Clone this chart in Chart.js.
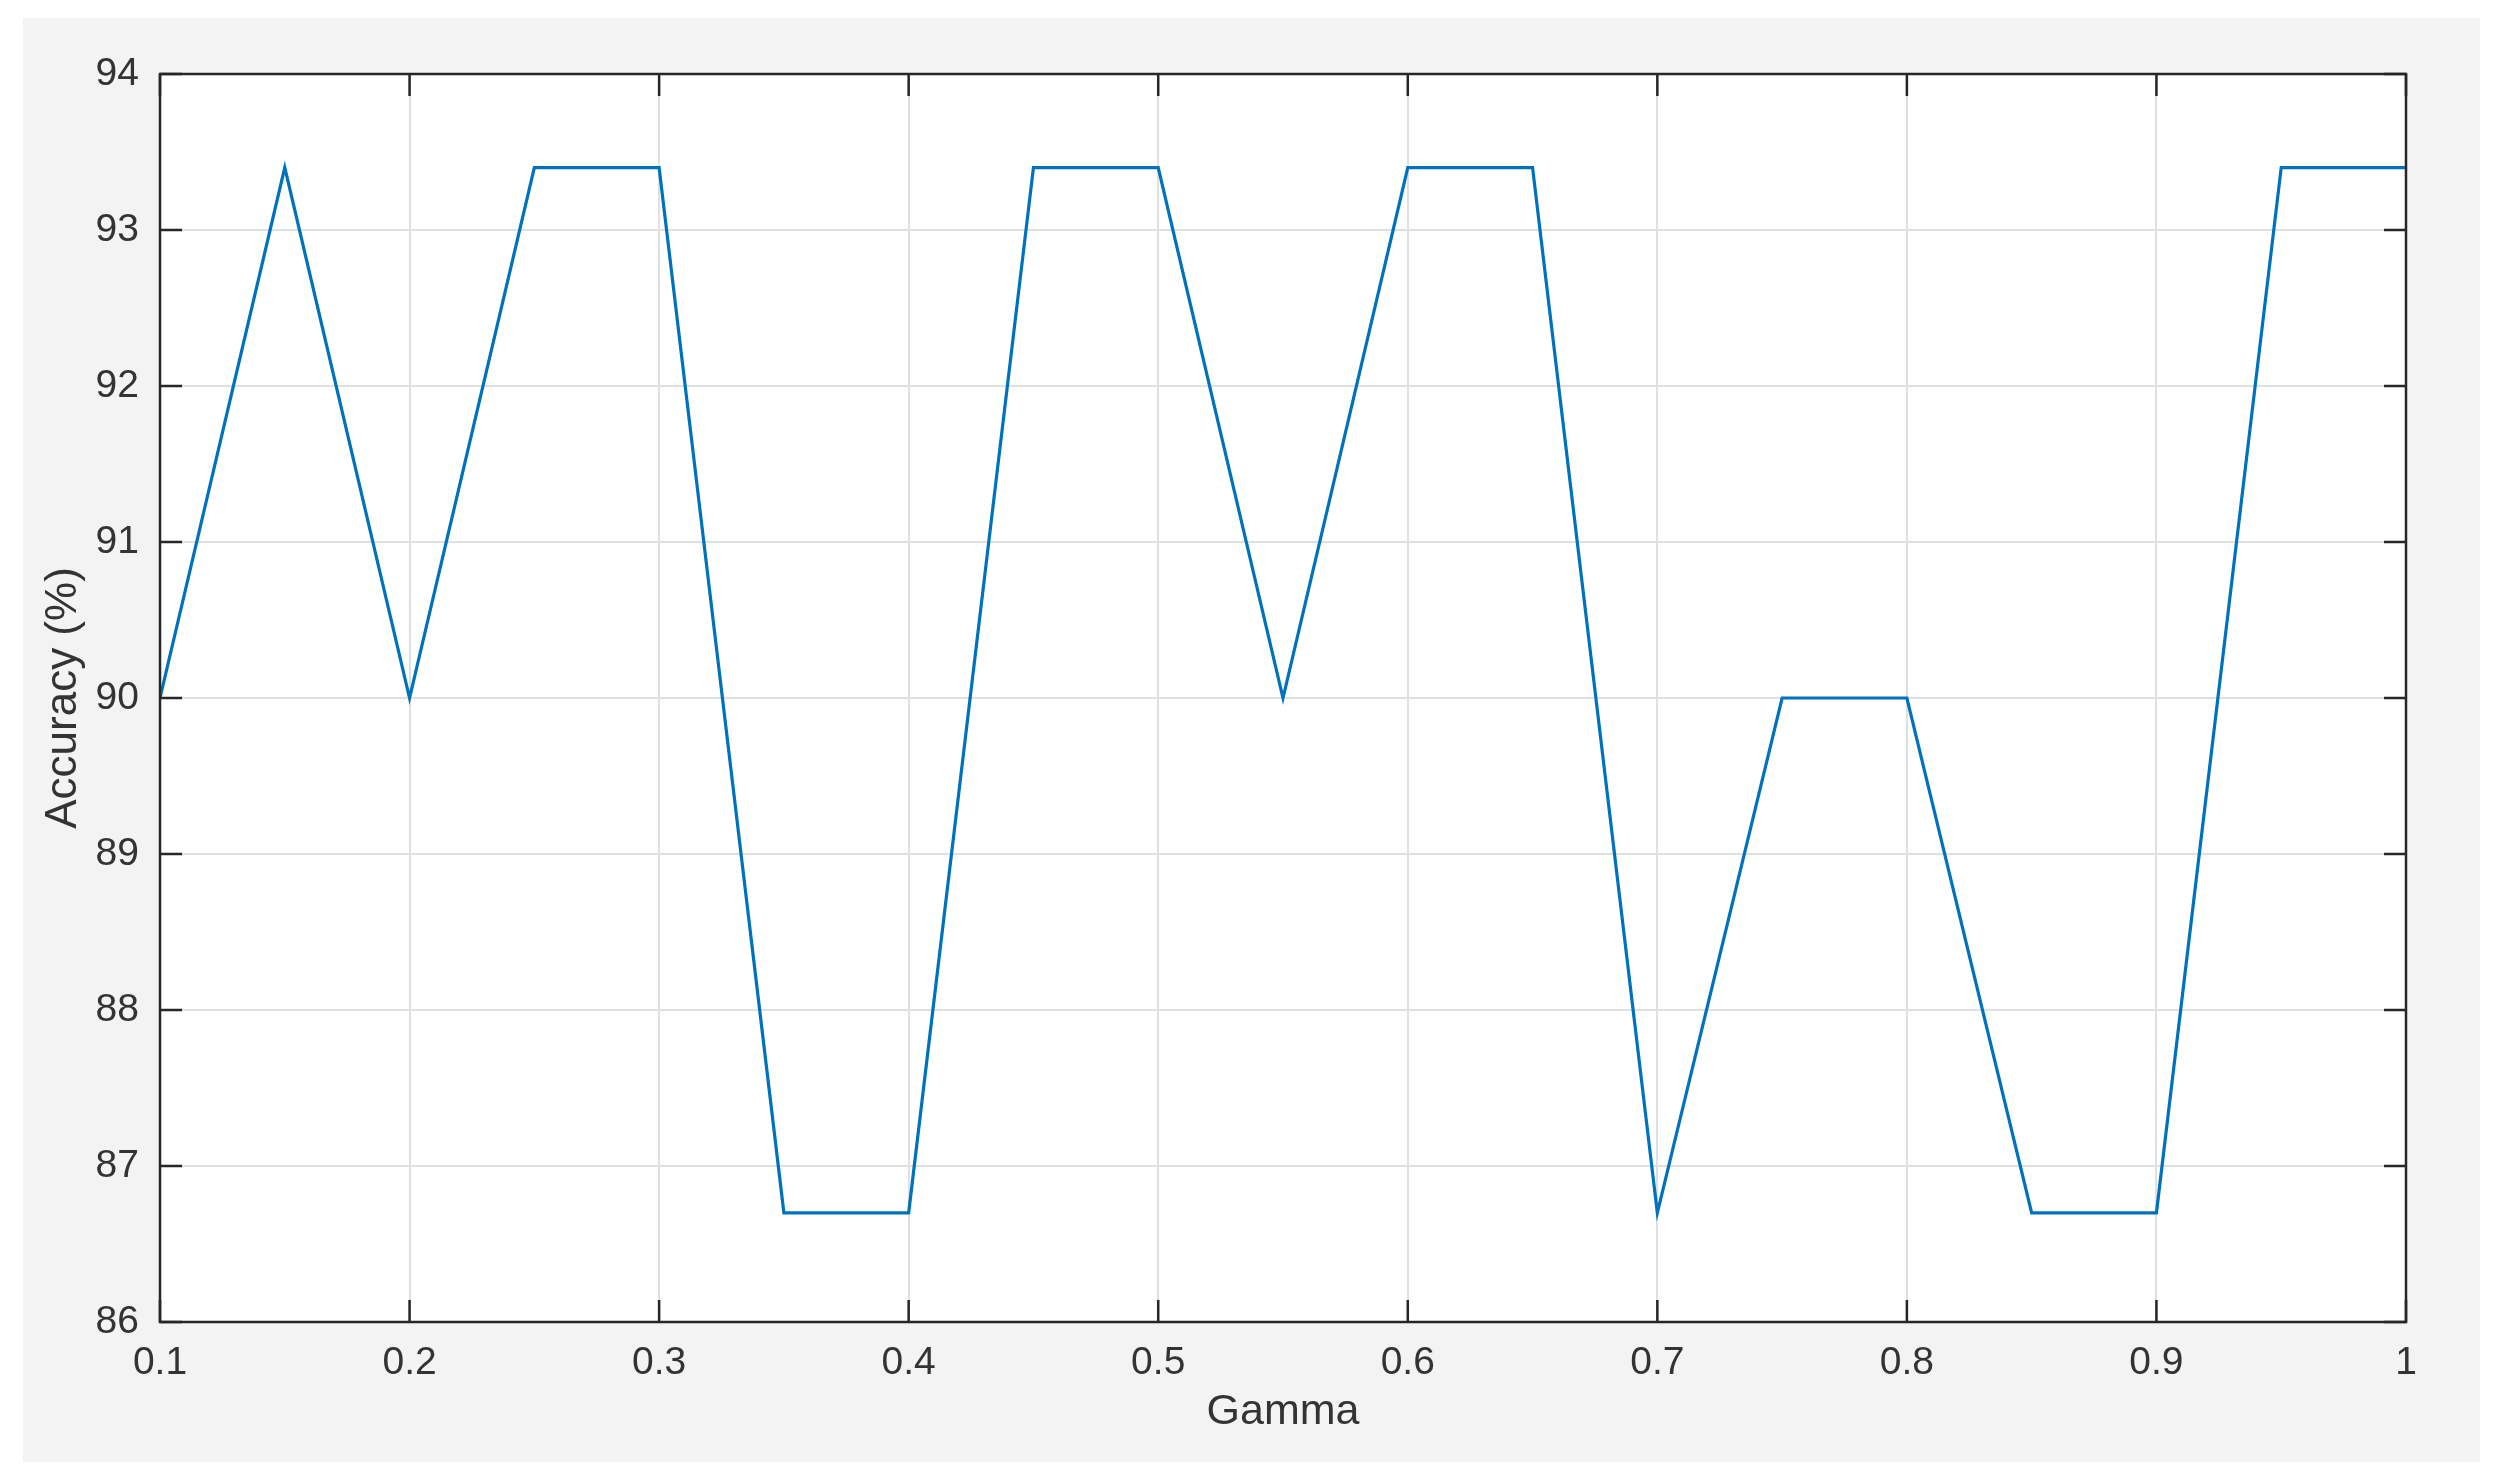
<!DOCTYPE html>
<html>
<head>
<meta charset="utf-8">
<script src="https://cdn.jsdelivr.net/npm/chart.js@4.4.1/dist/chart.umd.min.js"></script>
<style>
  html, body { margin: 0; padding: 0; background: #ffffff; }
  #wrap { width: 2508px; height: 1484px; }
</style>
</head>
<body>
<div id="wrap"><canvas id="accChart" width="2508" height="1484"></canvas></div>
<script>
// gamma values (x) and accuracy (%)
const gamma = [0.1, 0.15, 0.2, 0.25, 0.3, 0.35, 0.4, 0.45, 0.5, 0.55,
               0.6, 0.65, 0.7, 0.75, 0.8, 0.85, 0.9, 0.95, 1.0];
const accuracy = [90, 93.4, 90, 93.4, 93.4, 86.7, 86.7, 93.4, 93.4, 90,
                  93.4, 93.4, 86.7, 90, 90, 86.7, 86.7, 93.4, 93.4];

const xTicks = [0.1, 0.2, 0.3, 0.4, 0.5, 0.6, 0.7, 0.8, 0.9, 1];
const yTicks = [86, 87, 88, 89, 90, 91, 92, 93, 94];

const FONT = "'Liberation Sans', Arial, Helvetica, sans-serif";
const TEXT = "#333333";

/* ======================================================
   background panel + white axes area
====================================================== */
const panelPlugin = {
  id: "panel",
  beforeDraw(chart) {
    const { ctx, chartArea: a } = chart;
    ctx.save();
    ctx.fillStyle = "#f3f3f3";
    ctx.fillRect(23, 18, 2457, 1444);
    ctx.fillStyle = "#ffffff";
    ctx.fillRect(a.left, a.top, a.right - a.left, a.bottom - a.top);
    ctx.restore();
  },
  // box + inward ticks on all four sides (matlab style)
  afterDraw(chart) {
    const { ctx, chartArea: a, scales } = chart;
    const len = 22;
    ctx.save();
    ctx.strokeStyle = "#262626";
    ctx.lineWidth = 2.5;
    ctx.beginPath();
    xTicks.forEach((v) => {
      const px = scales.x.getPixelForValue(v);
      ctx.moveTo(px, a.bottom); ctx.lineTo(px, a.bottom - len);
      ctx.moveTo(px, a.top); ctx.lineTo(px, a.top + len);
    });
    yTicks.forEach((v) => {
      const py = scales.y.getPixelForValue(v);
      ctx.moveTo(a.left, py); ctx.lineTo(a.left + len, py);
      ctx.moveTo(a.right, py); ctx.lineTo(a.right - len, py);
    });
    ctx.stroke();
    ctx.strokeRect(a.left, a.top, a.right - a.left, a.bottom - a.top);
    ctx.restore();
  },
};

const config = {
  type: "line",
  data: {
    datasets: [
      {
        data: gamma.map((g, i) => ({ x: g, y: accuracy[i] })),
        borderColor: "#0072BD",
        borderWidth: 3.2,
        pointRadius: 0,
        tension: 0,
        fill: false,
      },
    ],
  },
  options: {
    responsive: false,
    animation: false,
    layout: { padding: { left: 0, top: 74, right: 102, bottom: 0 } },
    plugins: { legend: { display: false }, tooltip: { enabled: false } },
    scales: {
      x: {
        type: "linear",
        min: 0.1,
        max: 1,
        afterBuildTicks: (s) => { s.ticks = xTicks.map((v) => ({ value: v })); },
        afterFit: (s) => { s.height = 162; },
        grid: { color: "#e0e0e0", lineWidth: 2, drawTicks: false },
        border: { display: false },
        ticks: {
          padding: 18,
          color: TEXT,
          font: { family: FONT, size: 39 },
          maxRotation: 0,
          callback: (v) => String(Number(v.toFixed(2))),
        },
        title: {
          display: true,
          text: "Gamma",
          color: TEXT,
          font: { family: FONT, size: 43 },
          padding: { top: 0, bottom: 46 },
        },
      },
      y: {
        min: 86,
        max: 94,
        afterBuildTicks: (s) => { s.ticks = yTicks.map((v) => ({ value: v })); },
        afterFit: (s) => { s.width = 160; },
        grid: { color: "#e0e0e0", lineWidth: 2, drawTicks: false },
        border: { display: false },
        ticks: {
          padding: 21,
          color: TEXT,
          font: { family: FONT, size: 39 },
        },
        title: {
          display: true,
          text: "Accuracy (%)",
          color: TEXT,
          font: { family: FONT, size: 44 },
          padding: { top: 37, bottom: 0 },
        },
      },
    },
  },
  plugins: [panelPlugin],
};

new Chart(document.getElementById("accChart"), config);
</script>
</body>
</html>
